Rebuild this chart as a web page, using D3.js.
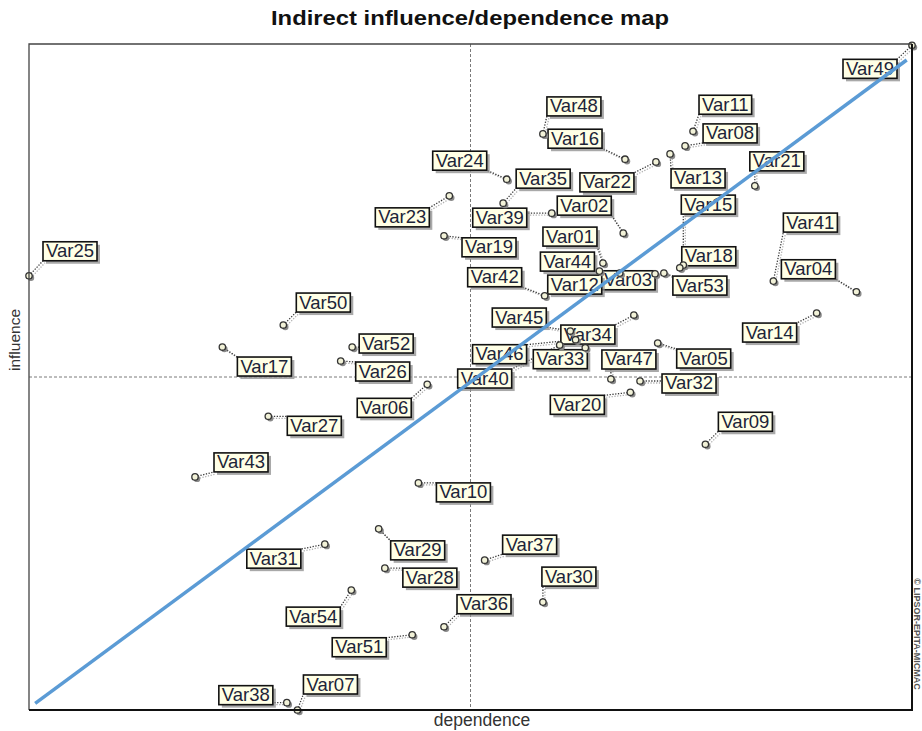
<!DOCTYPE html>
<html>
<head>
<meta charset="utf-8">
<script src="https://cdn.jsdelivr.net/npm/d3@7"></script>
<style>
  body { margin: 0; background: #ffffff; }
  svg { display: block; }
</style>
</head>
<body>
<svg id="chart" width="922" height="731"></svg>
<script>
// Indirect influence / dependence values (scaled 0-100)
const variables = ["Var01","Var02","Var03","Var04","Var05","Var06","Var07","Var08","Var09","Var10",
  "Var11","Var12","Var13","Var14","Var15","Var16","Var17","Var18","Var19","Var20",
  "Var21","Var22","Var23","Var24","Var25","Var26","Var27","Var28","Var29","Var30",
  "Var31","Var32","Var33","Var34","Var35","Var36","Var37","Var38","Var39","Var40",
  "Var41","Var42","Var43","Var44","Var45","Var46","Var47","Var48","Var49","Var50",
  "Var51","Var52","Var53","Var54"];

const dependence = [65.0, 67.3, 70.9, 93.7, 71.2, 45.1, 30.4, 74.3, 76.6, 44.1,
  75.2, 66.9, 72.6, 89.2, 74.1, 67.5, 21.9, 73.7, 47.0, 68.1,
  82.2, 71.0, 47.6, 54.1, 0.0, 35.3, 27.1, 40.3, 39.6, 58.2,
  33.5, 69.2, 63.0, 68.5, 53.7, 47.0, 51.6, 29.2, 59.2, 60.1,
  84.3, 58.4, 18.8, 64.6, 61.3, 61.9, 65.9, 58.2, 100.0, 28.8,
  43.4, 36.6, 71.9, 36.5];

const influence = [67.1, 71.6, 65.5, 62.8, 55.1, 48.9, 0.0, 84.7, 39.9, 34.1,
  86.9, 65.6, 83.5, 59.6, 66.8, 82.7, 54.5, 66.4, 71.2, 47.7,
  78.7, 82.3, 77.2, 79.7, 65.2, 52.4, 44.1, 21.3, 27.2, 16.2,
  24.9, 49.4, 54.4, 59.3, 76.1, 12.5, 22.5, 1.1, 74.6, 54.8,
  64.4, 62.2, 35.0, 65.9, 56.9, 55.6, 49.7, 86.5, 99.8, 57.8,
  11.3, 54.5, 65.6, 18.0];

// Averages that split the map into quadrants
const meanDependence = 50;
const meanInfluence = 50;

// Ends of the influence = dependence reference line
const diagonalDependence = [0.7, 99.4];
const diagonalInfluence = [1.0, 97.6];

// Label box placement: top-left corner relative to its point (px)
const labelDx = [-60,-66,-54,-75,19,-70,6,18,13,18,
  6,-72,1,-74,-2,-77,15,2,18,-80,
  -5,-76,-74,-74,14,15,19,18,12,-1,
  -78,22,-52,-73,13,13,18,-68,-79,-102,
  10,-77,19,-59,-78,-103,-9,4,-69,13,
  -80,7,9,-65];
const labelDy = [-36,-37,-3,-32,6,14,-35,-22,-32,0,
  -36,2,15,10,-70,-30,10,-21,2,3,
  -34,11,12,-28,-34,1,0,0,12,-35,
  5,-7,2,10,-34,-32,-25,-17,-5,24,
  -68,-28,-24,-19,-23,5,-29,-37,14,-32,
  3,-13,3,17];

(function draw() {
  const svg = d3.select("#chart");
  const plotLeft = 29, plotRight = 912, plotTop = 44, plotBottom = 710;

  const x = d3.scaleLinear().domain([0, 100]).range([plotLeft, plotRight]);
  const y = d3.scaleLinear().domain([0, 100]).range([plotBottom, plotTop]);

  const font = "'Liberation Sans', Arial, sans-serif";

  // Title
  svg.append("text")
    .attr("x", 470).attr("y", 25)
    .attr("text-anchor", "middle")
    .attr("font-family", font)
    .attr("font-weight", "bold")
    .attr("font-size", 19.5)
    .attr("textLength", 398)
    .attr("lengthAdjust", "spacingAndGlyphs")
    .attr("fill", "#111")
    .text("Indirect influence/dependence map");

  // Quadrant separators
  svg.append("line")
    .attr("x1", x(meanDependence)).attr("x2", x(meanDependence))
    .attr("y1", plotTop).attr("y2", plotBottom)
    .attr("stroke", "#7a7a7a").attr("stroke-width", 1)
    .attr("stroke-dasharray", "3,2");
  svg.append("line")
    .attr("x1", plotLeft).attr("x2", plotRight)
    .attr("y1", y(meanInfluence)).attr("y2", y(meanInfluence))
    .attr("stroke", "#7a7a7a").attr("stroke-width", 1)
    .attr("stroke-dasharray", "3,2");

  const data = variables.map((name, i) => ({
    name, dep: dependence[i], inf: influence[i], dx: labelDx[i], dy: labelDy[i]
  }));

  const leaders = svg.append("g");
  const labelsG = svg.append("g");
  const pointsG = svg.append("g");

  // Label boxes (text measured to size each box)
  const boxH = 19;
  labelsG.selectAll("g.label").data(data).join("g").attr("class", "label")
    .each(function(d) {
      const g = d3.select(this);
      const px = x(d.dep), py = y(d.inf);
      const bx = px + d.dx, by = py + d.dy;
      const shadow = g.append("rect");
      const box = g.append("rect");
      const t = g.append("text")
        .attr("x", bx + 3).attr("y", by + 15.5)
        .attr("font-family", font)
        .attr("font-size", 18.5)
        .attr("fill", "#1c2438")
        .text(d.name);
      const w = t.node().getComputedTextLength() + 6;
      shadow.attr("x", bx + 3).attr("y", by + 3).attr("width", w).attr("height", boxH)
        .attr("fill", "#8c8c8c").attr("opacity", 0.75);
      box.attr("x", bx).attr("y", by).attr("width", w).attr("height", boxH)
        .attr("fill", "#ffffe6").attr("stroke", "#111").attr("stroke-width", 1.6);
      d.box = { x: bx, y: by, w, h: boxH };
    });

  // Dotted leaders from each point to the nearest spot of its label
  data.forEach(d => {
    const px = x(d.dep), py = y(d.inf);
    const b = d.box;
    const ex = Math.max(b.x, Math.min(px, b.x + b.w));
    const ey = Math.max(b.y, Math.min(py, b.y + b.h));
    leaders.append("line")
      .attr("x1", px + 2).attr("y1", py + 2).attr("x2", ex + 2).attr("y2", ey + 2)
      .attr("stroke", "#b0b0b0").attr("stroke-width", 1.3).attr("stroke-dasharray", "1.3,1.5");
    leaders.append("line")
      .attr("x1", px).attr("y1", py).attr("x2", ex).attr("y2", ey)
      .attr("stroke", "#3a3a3a").attr("stroke-width", 1.3).attr("stroke-dasharray", "1.3,1.5");
  });

  // Points
  pointsG.selectAll("circle.shadow").data(data).join("circle")
    .attr("class", "shadow")
    .attr("cx", d => x(d.dep) + 2).attr("cy", d => y(d.inf) + 2).attr("r", 3.2)
    .attr("fill", "#8a8a8a");
  pointsG.selectAll("circle.pt").data(data).join("circle")
    .attr("class", "pt")
    .attr("cx", d => x(d.dep)).attr("cy", d => y(d.inf)).attr("r", 3.2)
    .attr("fill", "#f2f2d8").attr("stroke", "#333").attr("stroke-width", 1.3);

  // Influence = dependence line
  svg.append("line")
    .attr("x1", x(diagonalDependence[0])).attr("y1", y(diagonalInfluence[0]))
    .attr("x2", x(diagonalDependence[1])).attr("y2", y(diagonalInfluence[1]))
    .attr("stroke", "#5b9bd5").attr("stroke-width", 3.5);

  // Frame
  svg.append("path")
    .attr("d", `M${plotLeft},${plotBottom}V${plotTop}H${plotRight}`)
    .attr("fill", "none").attr("stroke", "#444").attr("stroke-width", 1.3);
  svg.append("path")
    .attr("d", `M${plotLeft},${plotBottom}H${plotRight}V${plotTop}`)
    .attr("fill", "none").attr("stroke", "#111").attr("stroke-width", 2);

  // Axis titles
  svg.append("text")
    .attr("x", 482).attr("y", 726)
    .attr("text-anchor", "middle")
    .attr("font-family", font).attr("font-size", 17.5)
    .attr("fill", "#333")
    .text("dependence");
  svg.append("text")
    .attr("transform", "translate(20,340) rotate(-90)")
    .attr("text-anchor", "middle")
    .attr("font-family", font).attr("font-size", 15.5)
    .attr("fill", "#333")
    .text("influence");

  // Copyright
  svg.append("text")
    .attr("transform", "translate(913.5,634) rotate(90)")
    .attr("text-anchor", "middle")
    .attr("font-family", font).attr("font-size", 9)
    .attr("font-weight", "bold")
    .attr("fill", "#555")
    .text("© LIPSOR-EPITA-MICMAC");
})();
</script>
</body>
</html>
